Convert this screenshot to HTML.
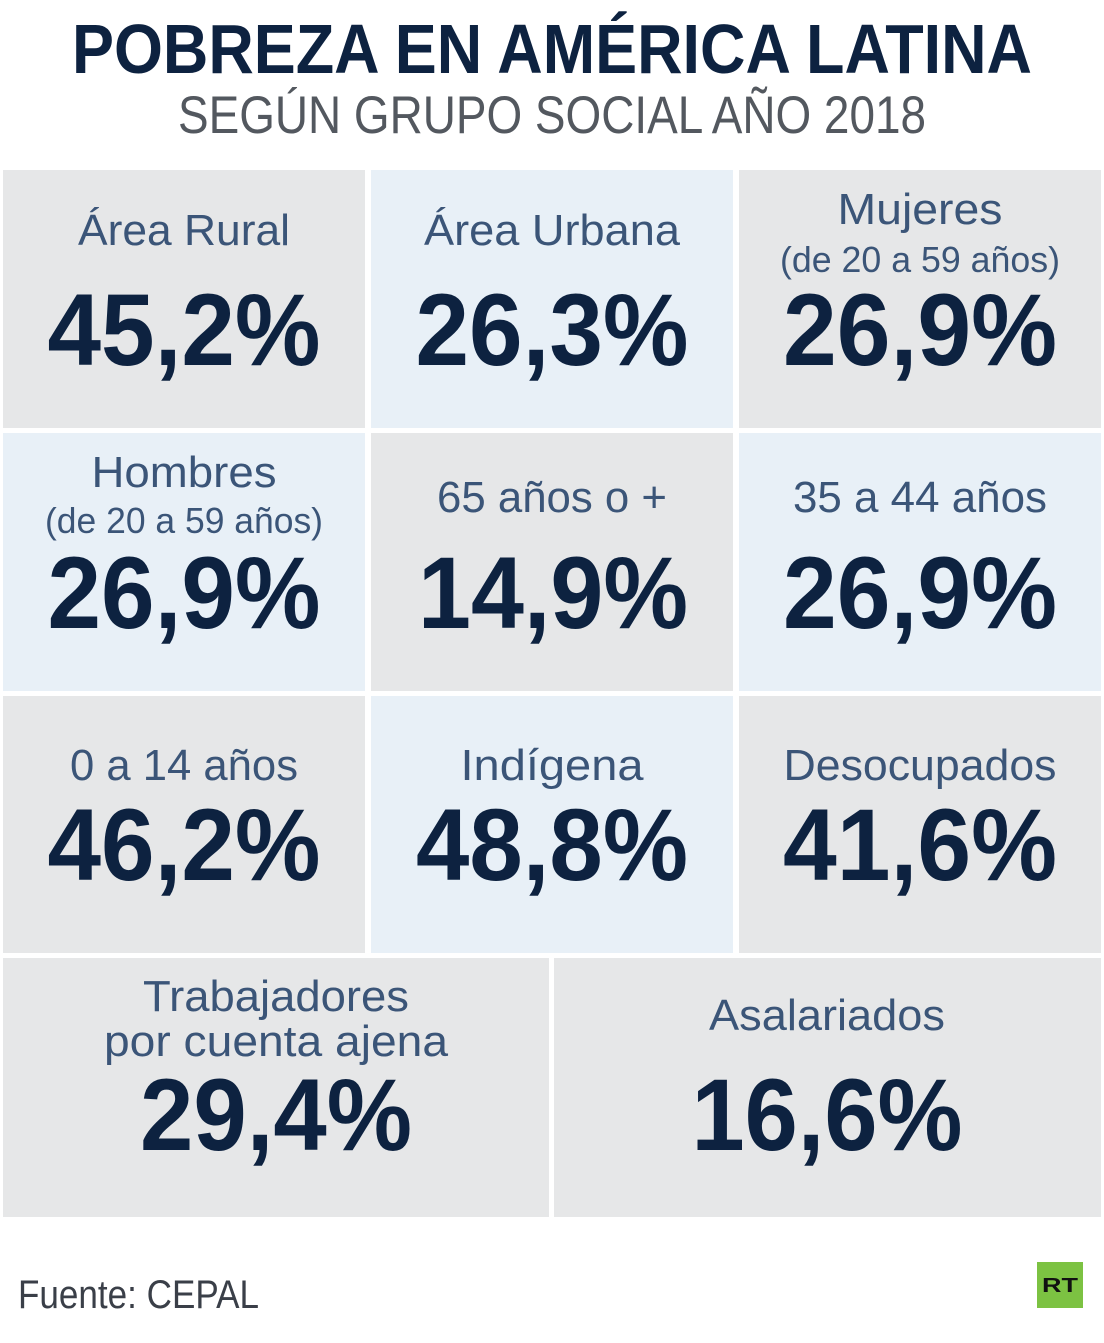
<!DOCTYPE html>
<html><head><meta charset="utf-8"><style>
html,body{margin:0;padding:0;background:#fff;}
svg{display:block;}
.l{font-family:"Liberation Sans",sans-serif;fill:#3b5578;text-anchor:middle;}
.n{font-family:"Liberation Sans",sans-serif;font-weight:bold;fill:#0d2240;text-anchor:middle;}
</style></head><body>
<svg width="1104" height="1343" viewBox="0 0 1104 1343" xmlns="http://www.w3.org/2000/svg">
<rect width="1104" height="1343" fill="#fff"/>
<text x="552" y="73" font-family="Liberation Sans, sans-serif" font-weight="bold" font-size="70" fill="#0d2240" text-anchor="middle" textLength="960" lengthAdjust="spacingAndGlyphs">POBREZA EN AMÉRICA LATINA</text>
<text x="552" y="133" font-family="Liberation Sans, sans-serif" font-size="53" fill="#53585f" text-anchor="middle" textLength="748" lengthAdjust="spacingAndGlyphs">SEGÚN GRUPO SOCIAL AÑO 2018</text>

<rect x="3" y="170" width="362" height="258" fill="#e6e7e8"/>
<rect x="371" y="170" width="362" height="258" fill="#e8f0f7"/>
<rect x="739" y="170" width="362" height="258" fill="#e6e7e8"/>
<rect x="3" y="433" width="362" height="258" fill="#e8f0f7"/>
<rect x="371" y="433" width="362" height="258" fill="#e6e7e8"/>
<rect x="739" y="433" width="362" height="258" fill="#e8f0f7"/>
<rect x="3" y="696" width="362" height="257" fill="#e6e7e8"/>
<rect x="371" y="696" width="362" height="257" fill="#e8f0f7"/>
<rect x="739" y="696" width="362" height="257" fill="#e6e7e8"/>
<rect x="3" y="958" width="546" height="259" fill="#e6e7e8"/>
<rect x="554" y="958" width="547" height="259" fill="#e6e7e8"/>

<g class="l" font-size="44">
<text x="184" y="245" textLength="212" lengthAdjust="spacingAndGlyphs">Área Rural</text>
<text x="552" y="245" textLength="256" lengthAdjust="spacingAndGlyphs">Área Urbana</text>
<text x="920" y="224" textLength="165" lengthAdjust="spacingAndGlyphs">Mujeres</text>
<text x="184" y="487" textLength="185" lengthAdjust="spacingAndGlyphs">Hombres</text>
<text x="552" y="512" textLength="230" lengthAdjust="spacingAndGlyphs">65 años o +</text>
<text x="920" y="512" textLength="254" lengthAdjust="spacingAndGlyphs">35 a 44 años</text>
<text x="184" y="780" textLength="228" lengthAdjust="spacingAndGlyphs">0 a 14 años</text>
<text x="552" y="780" textLength="183" lengthAdjust="spacingAndGlyphs">Indígena</text>
<text x="920" y="780" textLength="273" lengthAdjust="spacingAndGlyphs">Desocupados</text>
<text x="276" y="1011" textLength="266" lengthAdjust="spacingAndGlyphs">Trabajadores</text>
<text x="276" y="1056" textLength="344" lengthAdjust="spacingAndGlyphs">por cuenta ajena</text>
<text x="827" y="1030" textLength="236" lengthAdjust="spacingAndGlyphs">Asalariados</text>
</g>
<g class="l" font-size="36">
<text x="920" y="272" textLength="280" lengthAdjust="spacingAndGlyphs">(de 20 a 59 años)</text>
<text x="184" y="533" textLength="278" lengthAdjust="spacingAndGlyphs">(de 20 a 59 años)</text>
</g>
<g class="n" font-size="102">
<text x="184" y="365" textLength="273" lengthAdjust="spacingAndGlyphs">45,2%</text>
<text x="552" y="365" textLength="273" lengthAdjust="spacingAndGlyphs">26,3%</text>
<text x="920" y="365" textLength="274" lengthAdjust="spacingAndGlyphs">26,9%</text>
<text x="184" y="628" textLength="273" lengthAdjust="spacingAndGlyphs">26,9%</text>
<text x="553" y="628" textLength="270" lengthAdjust="spacingAndGlyphs">14,9%</text>
<text x="920" y="628" textLength="274" lengthAdjust="spacingAndGlyphs">26,9%</text>
<text x="184" y="880" textLength="273" lengthAdjust="spacingAndGlyphs">46,2%</text>
<text x="552" y="880" textLength="272" lengthAdjust="spacingAndGlyphs">48,8%</text>
<text x="920" y="880" textLength="274" lengthAdjust="spacingAndGlyphs">41,6%</text>
<text x="276" y="1150" textLength="272" lengthAdjust="spacingAndGlyphs">29,4%</text>
<text x="827" y="1150" textLength="271" lengthAdjust="spacingAndGlyphs">16,6%</text>
</g>

<text x="18" y="1308" font-family="Liberation Sans, sans-serif" font-size="40" fill="#3a3f48" textLength="241" lengthAdjust="spacingAndGlyphs">Fuente: CEPAL</text>
<rect x="1037" y="1262" width="46" height="46" fill="#7cc242"/>
<text x="1060" y="1292" font-family="Liberation Sans, sans-serif" font-weight="bold" font-size="20" fill="#111" text-anchor="middle" textLength="36" lengthAdjust="spacingAndGlyphs">RT</text>
</svg>
</body></html>
